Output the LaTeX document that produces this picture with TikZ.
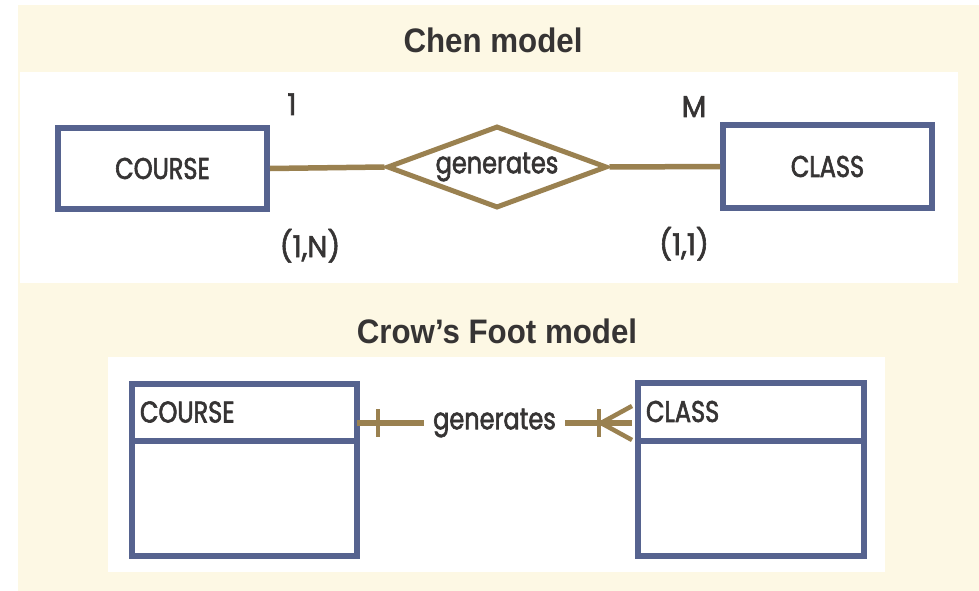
\documentclass[tikz,border=0pt]{standalone}
\usepackage{fontspec}
\setmainfont{Poppins}[FakeStretch=0.8, FakeBold=2]
\newfontfamily\cardfont{Poppins}[FakeStretch=0.95, FakeBold=2]
\newfontfamily\titlefont{Liberation Sans}[FakeStretch=0.92]
\usepackage{tikz}
\usetikzlibrary{shapes.geometric}
\definecolor{paper}{HTML}{FDF8E4}
\definecolor{entityblue}{HTML}{56638F}
\definecolor{relbrown}{HTML}{9A8150}
\definecolor{ink}{HTML}{363434}

\begin{document}
\begin{tikzpicture}[x=1pt, y=-1pt,
    every node/.style={text=ink, font=\fontsize{30}{34}\selectfont},
    entity/.style={draw=entityblue, line width=6pt, rectangle, inner sep=0pt},
    rel/.style={draw=relbrown, line width=5.5pt},
    card/.style={anchor=base, font=\cardfont\fontsize{30}{34}\selectfont},
    heading/.style={font=\titlefont\bfseries\fontsize{34}{38}\selectfont, anchor=base}]
			% Background and panels
			\useasboundingbox (0, 0) rectangle (979, 591);
			\fill[white] (0, 0) rectangle (979, 591);
			\fill[paper] (18, 5) rectangle (979, 591);
			\fill[white] (20, 72) rectangle (958, 283);
			\fill[white] (108, 357) rectangle (885, 572);
			
			% Chen model
			\node[heading] at (493, 53) (chenTitle) {Chen model};
			\node[entity, minimum width=209, minimum height=81] at (162.5, 168.5) (courseA) {COURSE};
			\node[entity, minimum width=209, minimum height=83] at (827.5, 166.5) (classA) {CLASS};
			\node[diamond, rel, line width=5pt, aspect=2.6, minimum width=220, minimum height=82, inner sep=0pt] at (497, 167) (relA) {generates};
			
			\node[card] at (292, 115) (oneA) {1};
			\node[card] at (694, 117) (manyA) {M};
			\node[card] at (310, 257) (courseCard) {(1,N)};
			\node[card] at (684, 255) (classCard) {(1,1)};
			
			\draw[rel] (courseA.east) -- (relA.west);
			\draw[rel] (relA.east) -- (classA.west);
			
			% Crow's Foot model
			\node[heading] at (497, 343) (crowTitle) {Crow’s Foot model};
			\node[entity, minimum width=225, minimum height=57, anchor=north west, text width=209, align=left] at (129, 380.5) (courseHead) {COURSE};
			\node[entity, minimum width=225, minimum height=115, anchor=north west] at (129, 437.5) (courseBody) {};
			\node[entity, minimum width=226, minimum height=58, anchor=north west, text width=210, align=left] at (635, 379.5) (classHead) {CLASS};
			\node[entity, minimum width=226, minimum height=115, anchor=north west] at (635, 437.5) (classBody) {};
			
			\coordinate (relL) at (357, 423);
			\coordinate (relR) at (632, 423);
			\draw[rel] (relL) -- node[fill=white, inner xsep=9pt, inner ysep=2pt] (relB) {generates} (relR);
			% one and only one / one or many ends
			\draw[rel, line width=4.5pt] ([xshift=21]relL) ++(0, -14) -- ++(0, 28);
			\draw[rel, line width=4.5pt] ([xshift=-33]relR) ++(0, -14) -- ++(0, 28);
			\draw[rel, line width=4.5pt] ([xshift=-31]relR) -- ++(31, -17);
			\draw[rel, line width=4.5pt] ([xshift=-31]relR) -- ++(31, 17);
		\end{tikzpicture}
\end{document}
